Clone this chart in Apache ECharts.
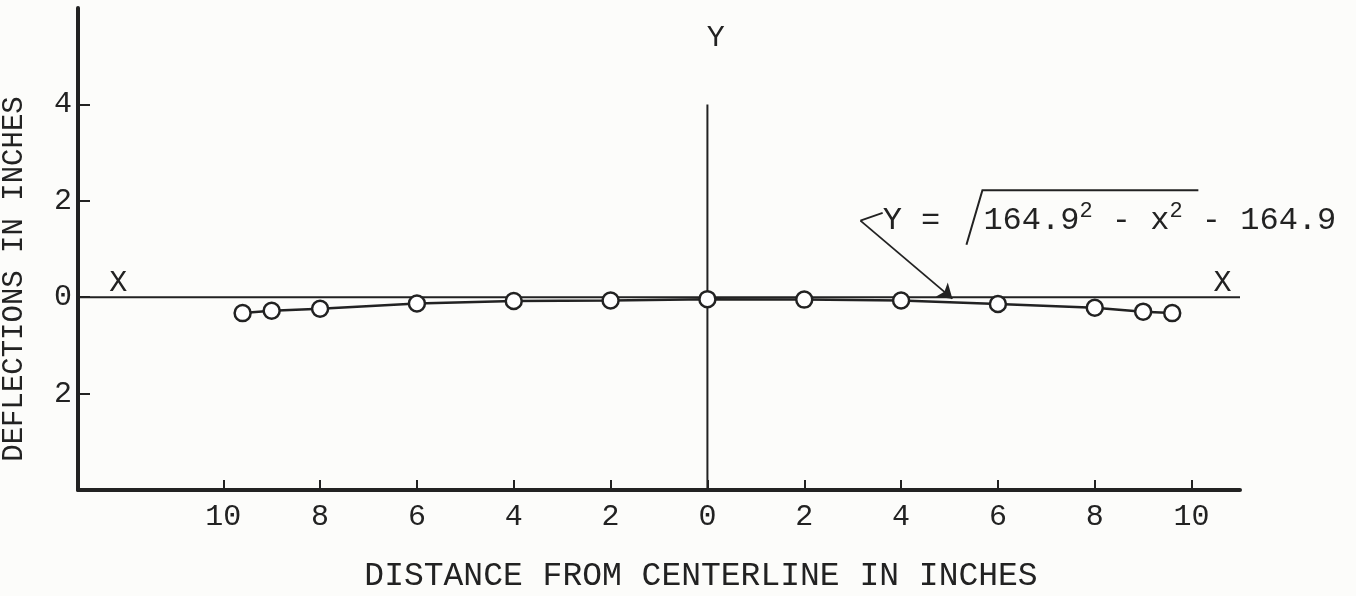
<!DOCTYPE html>
<html>
<head>
<meta charset="utf-8">
<title>Deflections</title>
<script src="https://cdn.jsdelivr.net/npm/echarts@6/dist/echarts.min.js"></script>
<style>
  html, body { margin: 0; padding: 0; background: #fcfcfa; }
  #chart { width: 1356px; height: 596px; }
</style>
</head>
<body>
<div id="chart"></div>
<script>
  var distances = [-9.6, -9, -8, -6, -4, -2, 0, 2, 4, 6, 8, 9, 9.6]
  var deflections = [-0.33, -0.28, -0.24, -0.13, -0.08, -0.07, -0.04, -0.05, -0.07, -0.14, -0.22, -0.3, -0.33]

  var xTicks = [-10, -8, -6, -4, -2, 0, 2, 4, 6, 8, 10]
  var yTicks = [-2, 0, 2, 4]

  // reference axes drawn inside the plot
  var xAxisLine = [[-13, 0], [11, 0]]
  var yAxisLine = [[0, -4], [0, 4]]

  var ink = '#222222'
  var font = "'Liberation Mono', 'DejaVu Sans Mono', monospace"

  var chart = echarts.init(document.getElementById('chart'))

  var points = distances.map(function (d, i) { return [d, deflections[i]] })

  chart.setOption({
    animation: false,
    backgroundColor: '#fcfcfa',
    grid: { left: 78, right: 116, top: 8, bottom: 106, outerBoundsMode: 'none', containLabel: false },
    xAxis: {
      type: 'value',
      min: -13,
      max: 11,
      name: 'DISTANCE FROM CENTERLINE IN INCHES',
      nameLocation: 'middle',
      nameGap: 70,
      nameTextStyle: { fontFamily: font, fontSize: 33, color: ink, padding: [0, 0, 0, 84] },
      axisLine: { onZero: false, lineStyle: { color: ink, width: 4 } },
      axisTick: { customValues: xTicks, inside: true, length: 10, lineStyle: { color: ink, width: 2 } },
      axisLabel: {
        customValues: xTicks,
        formatter: function (v) { return String(Math.abs(v)) },
        fontFamily: font, fontSize: 30, color: ink, margin: 12
      },
      splitLine: { show: false }
    },
    yAxis: {
      type: 'value',
      min: -4,
      max: 6,
      name: 'DEFLECTIONS IN INCHES',
      nameLocation: 'middle',
      nameGap: 49,
      nameTextStyle: { fontFamily: font, fontSize: 29, color: ink, padding: [0, 60, 0, 0] },
      axisLine: { onZero: false, lineStyle: { color: ink, width: 4 } },
      axisTick: { customValues: yTicks, inside: true, length: 12, lineStyle: { color: ink, width: 2 } },
      axisLabel: {
        customValues: yTicks,
        formatter: function (v) { return String(Math.abs(v)) },
        fontFamily: font, fontSize: 30, color: ink, margin: 6
      },
      splitLine: { show: false }
    },
    series: [
      {
        type: 'line',
        data: xAxisLine,
        symbol: 'none',
        silent: true,
        lineStyle: { color: ink, width: 2 }
      },
      {
        type: 'line',
        data: yAxisLine,
        symbol: 'none',
        silent: true,
        lineStyle: { color: ink, width: 2 }
      },
      {
        type: 'line',
        data: points,
        symbol: 'circle',
        symbolSize: 16,
        z: 5,
        itemStyle: { color: '#ffffff', borderColor: ink, borderWidth: 2.5 },
        lineStyle: { color: ink, width: 2.5 },
        markLine: {
          silent: true,
          symbol: ['none', 'none'],
          symbolSize: 14,
          label: { show: false },
          lineStyle: { color: ink, width: 1.8, type: 'solid' },
          data: [
            [{ coord: [3.16, 1.59], symbol: 'none' }, { coord: [5.06, -0.03], symbol: 'arrow' }],
            [{ coord: [3.16, 1.59], symbol: 'none' }, { coord: [3.62, 1.75], symbol: 'none' }]
          ]
        }
      }
    ]
  })

  // annotations placed in data coordinates
  function px(p) { return chart.convertToPixel({ gridIndex: 0 }, p) }

  var xLeft = px([-12.17, 0.3])
  var xRight = px([10.64, 0.3])
  var yTop = px([0.17, 5.38])
  var eqLeft = px([3.62, 1.59])
  var eqRest = px([5.7, 1.59])
  var radical = [px([5.35, 1.09]), px([5.68, 2.22]), px([10.14, 2.22])]

  var labelStyle = { fontFamily: font, fontSize: 30, fill: ink, align: 'center', verticalAlign: 'middle' }

  chart.setOption({
    graphic: [
      { type: 'text', x: xLeft[0], y: xLeft[1], style: Object.assign({ text: 'X' }, labelStyle) },
      { type: 'text', x: xRight[0], y: xRight[1], style: Object.assign({ text: 'X' }, labelStyle) },
      { type: 'text', x: yTop[0], y: yTop[1], style: Object.assign({ text: 'Y' }, labelStyle) },
      {
        type: 'text', x: eqLeft[0], y: eqLeft[1],
        style: { text: 'Y =', fontFamily: font, fontSize: 32, fill: ink, align: 'left', verticalAlign: 'middle' }
      },
      {
        type: 'text', x: eqRest[0], y: eqRest[1],
        style: {
          text: '164.9{s|2} - x{s|2} - 164.9',
          fontFamily: font, fontSize: 32, fill: ink, align: 'left', verticalAlign: 'middle',
          lineHeight: 40,
          rich: { s: { fontFamily: font, fontSize: 22, fill: ink, verticalAlign: 'top', lineHeight: 22 } }
        }
      },
      {
        type: 'polyline',
        shape: { points: radical },
        style: { stroke: ink, lineWidth: 2, fill: null }
      }
    ]
  })
</script>
</body>
</html>
